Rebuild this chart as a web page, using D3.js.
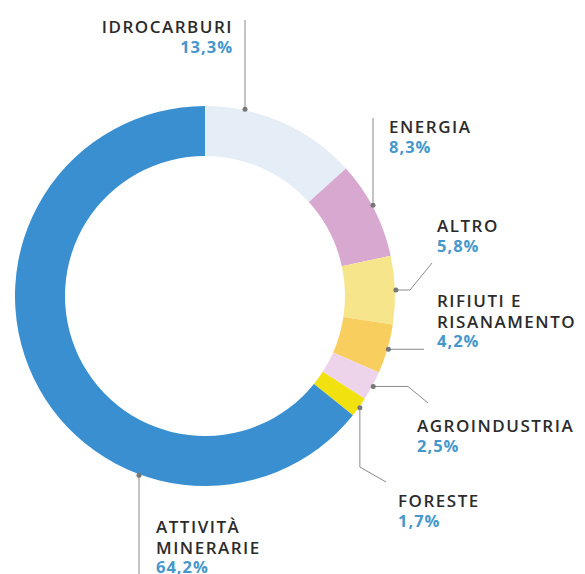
<!DOCTYPE html>
<html>
<head>
<meta charset="utf-8">
<script src="https://cdn.jsdelivr.net/npm/d3@7"></script>
<style>
  body { margin: 0; background: #fff; }
  svg { display: block; }
  .lbl { font-family: "Open Sans", sans-serif; font-weight: 600; font-size: 17px; letter-spacing: 1.5px; fill: #2b2b2b; }
  .pct { font-family: "Open Sans", sans-serif; font-weight: 700; font-size: 16.5px; letter-spacing: 1px; fill: #4597cc; }
</style>
</head>
<body>
<svg></svg>
<script>
var sectors = ["IDROCARBURI", "ENERGIA", "ALTRO", "RIFIUTI E|RISANAMENTO", "AGROINDUSTRIA", "FORESTE", "ATTIVITÀ|MINERARIE"];
var shares = [13.3, 8.3, 5.8, 4.2, 2.5, 1.7, 64.2];
var shareLabels = ["13,3%", "8,3%", "5,8%", "4,2%", "2,5%", "1,7%", "64,2%"];
var colors = ["#e5edf6", "#d8a8d0", "#f7e58c", "#f8cf5f", "#eed4ea", "#f1e10f", "#3a8fd0"];

var viewWidth = 585;
var viewHeight = 574;
var cx = 205, cy = 296;
var outerR = 190, innerR = 140;

var svg = d3.select("svg")
    .attr("width", viewWidth)
    .attr("height", viewHeight);

var data = sectors.map(function(s, i) {
    return { name: s, value: shares[i], label: shareLabels[i], color: colors[i] };
});

var pie = d3.pie()
    .sort(null)
    .value(function(d) { return d.value; });

var arc = d3.arc()
    .innerRadius(innerR)
    .outerRadius(outerR);

var arcs = pie(data);

var g = svg.append("g")
    .attr("transform", "translate(" + cx + "," + cy + ")");

g.selectAll("path")
    .data(arcs)
    .enter().append("path")
    .attr("d", arc)
    .attr("fill", function(d) { return d.data.color; });

// label layout: text anchor point, alignment, and leader shape
// vx = vertical leader x, otherwise the dot sits at the slice middle
var layout = [
    { tx: 233, ty: 33, align: "end", vx: 245, top: 20 },
    { tx: 389, ty: 133, align: "start", vx: 373, top: 118 },
    { tx: 437, ty: 232, align: "start", elbow: [[410, 0], [432, 263]] },
    { tx: 437, ty: 307, align: "start", elbow: [[424, 0]] },
    { tx: 417, ty: 432, align: "start", elbow: [[408, 0], [428, 403]] },
    { tx: 398, ty: 507, align: "start", drop: [[null, 467], [386, 482]] },
    { tx: 156, ty: 533, align: "start", vx: 139, bottom: 574 }
];

function toScreen(angle, r) {
    return [cx + r * Math.sin(angle), cy - r * Math.cos(angle)];
}

var leaders = svg.append("g");

arcs.forEach(function(a, i) {
    var L = layout[i];
    var dotR = outerR + 1;
    var angle;
    if (L.vx !== undefined) {
        var s = Math.asin((L.vx - cx) / dotR);
        // pick the solution inside the slice
        var cands = [s, Math.PI - s, 2 * Math.PI + s];
        angle = cands.find(function(c) { return c >= a.startAngle && c <= a.endAngle; });
        if (angle === undefined) angle = (a.startAngle + a.endAngle) / 2;
    } else {
        angle = (a.startAngle + a.endAngle) / 2;
    }
    var p = toScreen(angle, dotR);
    var pts = [p];
    if (L.vx !== undefined) {
        p[0] = L.vx;
        if (L.top !== undefined) pts.push([L.vx, L.top]);
        if (L.bottom !== undefined) pts.push([L.vx, L.bottom]);
    } else if (L.elbow) {
        L.elbow.forEach(function(e) {
            pts.push([e[0], e[1] === 0 ? p[1] : e[1]]);
        });
    } else if (L.drop) {
        L.drop.forEach(function(e) {
            pts.push([e[0] === null ? p[0] : e[0], e[1]]);
        });
    }
    leaders.append("path")
        .attr("d", d3.line()(pts))
        .attr("fill", "none")
        .attr("stroke", "#8a8a8a")
        .attr("stroke-width", 1);
    leaders.append("circle")
        .attr("cx", p[0])
        .attr("cy", p[1])
        .attr("r", 2.5)
        .attr("fill", "#777");

    var lines = a.data.name.split("|");
    var t = svg.append("g");
    lines.forEach(function(line, k) {
        t.append("text")
            .attr("class", "lbl")
            .attr("x", L.tx)
            .attr("y", L.ty + k * 21)
            .attr("text-anchor", L.align)
            .text(line);
    });
    t.append("text")
        .attr("class", "pct")
        .attr("x", L.tx)
        .attr("y", L.ty + lines.length * 20)
        .attr("text-anchor", L.align)
        .text(a.data.label);
});
</script>
</body>
</html>
